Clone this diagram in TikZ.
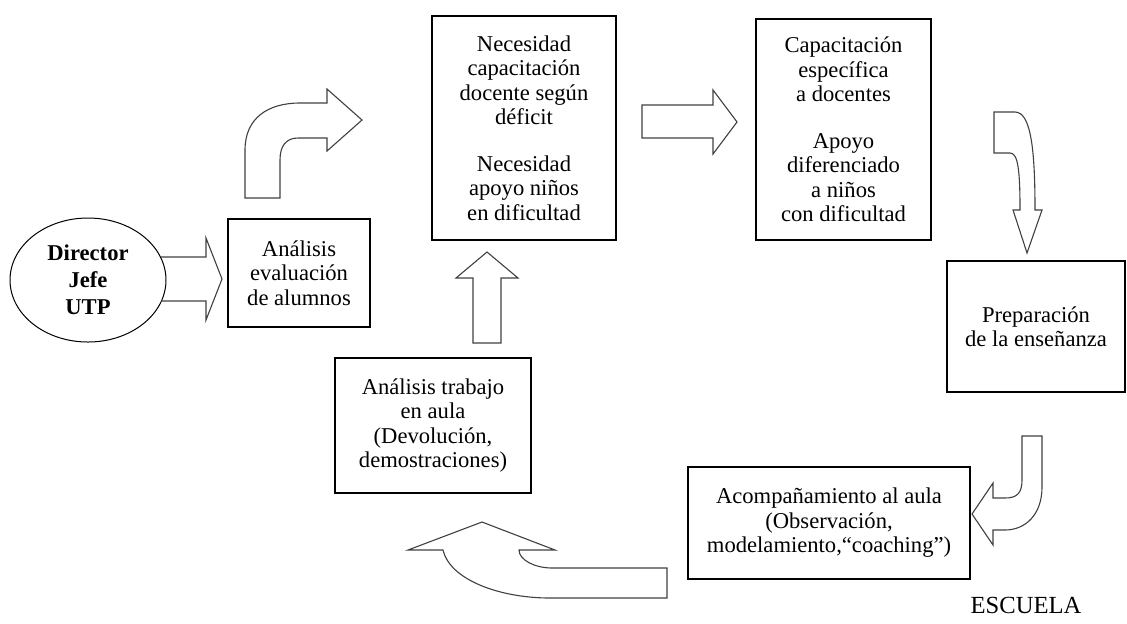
\documentclass[tikz,border=0pt]{standalone}
\usepackage{fontspec}
\setmainfont{Liberation Serif}
\usetikzlibrary{shapes.geometric}
\tikzset{%
  box/.style={draw,line width=0.7pt,align=center,inner sep=0pt,
    font=\fontsize{11.3}{12.25}\selectfont},%
  boss/.style={draw,ellipse,line width=0.5pt,align=center,inner sep=0pt,
    font=\fontsize{11.3}{13.5}\selectfont\bfseries},%
  block arrow/.style={draw=black!75,line width=0.55pt,line join=miter}%
}

\begin{document}
\begin{tikzpicture}[x=0.5pt,y=-0.5pt] % one unit = one pixel of the sketch

%% frame

\useasboundingbox (0,0) rectangle (1127,623);

%% boxes

\node[boss,minimum width=78pt,minimum height=62pt] (dir) at (88,280)
    {Director\\Jefe\\UTP};
\node[box,minimum width=71pt,minimum height=54pt] (ana) at (299,273)
    {Análisis\\evaluación\\de alumnos};
\node[box,minimum width=92pt,minimum height=112pt] (nec) at (524,128)
    {Necesidad\\capacitación\\docente según\\déficit\\[11pt]
     Necesidad\\apoyo niños\\en dificultad};
\node[box,minimum width=87.5pt,minimum height=110.5pt] (cap) at (843.5,129.5)
    {Capacitación\\específica\\a docentes\\[11pt]
     Apoyo\\diferenciado\\a niños\\con dificultad};
\node[box,minimum width=89pt,minimum height=65.5pt] (pre) at (1036,326.5)
    {Preparación\\de la enseñanza};
\node[box,minimum width=98pt,minimum height=67.5pt] (tra) at (433,425.5)
    {Análisis trabajo\\en aula\\(Devolución,\\demostraciones)};
\node[box,minimum width=141pt,minimum height=56pt] (aco) at (829,523)
    {Acompañamiento al aula\\(Observación,\\modelamiento,“coaching”)};
\node[font=\fontsize{12.3}{14}\selectfont] (esc) at (1026,605) {ESCUELA};

%% block arrows

% director -> analisis
\draw[block arrow] (161,257) -- (206,257) -- (206,238) -- (222,279)
    -- (206,320) -- (206,301) -- (161,301);
% analisis -> necesidad
\draw[block arrow] (245,198) -- (245,150) .. controls (245,118) and (268,103) .. (300,103)
    -- (327,103) -- (327,89) -- (362,120) -- (327,151) -- (327,138) -- (298,138)
    .. controls (286,138) and (280,146) .. (280,160) -- (280,198) -- cycle;
% necesidad -> capacitacion
\draw[block arrow] (642,105) -- (713,105) -- (713,90) -- (737,122) -- (713,154)
    -- (713,138) -- (642,138) -- cycle;
% capacitacion -> preparacion
\draw[block arrow] (994,112) -- (1015,112) .. controls (1031,112) and (1035,150) .. (1035,210)
    -- (1042,210) -- (1027,253) -- (1013,210) -- (1020,210)
    .. controls (1020,170) and (1018,153) .. (1010,153) -- (994,153) -- cycle;
% preparacion -> acompanamiento
\draw[block arrow] (1022,436) -- (1042,436) -- (1042,487)
    .. controls (1042,515) and (1025,530) .. (1005,530) -- (993,530) -- (993,545)
    -- (972,514) -- (993,483) -- (993,498) -- (1005,498)
    .. controls (1017,498) and (1022,493) .. (1022,480) -- cycle;
% acompanamiento -> trabajo
\draw[block arrow] (667,568) -- (552,568) .. controls (535,568) and (519,560) .. (519,550)
    -- (555,550) -- (482,522) -- (408,550) -- (443,550)
    .. controls (450,580) and (500,598) .. (550,598) -- (667,598) -- cycle;
% trabajo -> necesidad
\draw[block arrow] (473,343) -- (473,278) -- (456,278) -- (487,252) -- (518,278)
    -- (501,278) -- (501,343) -- cycle;

\end{tikzpicture}
\end{document}
